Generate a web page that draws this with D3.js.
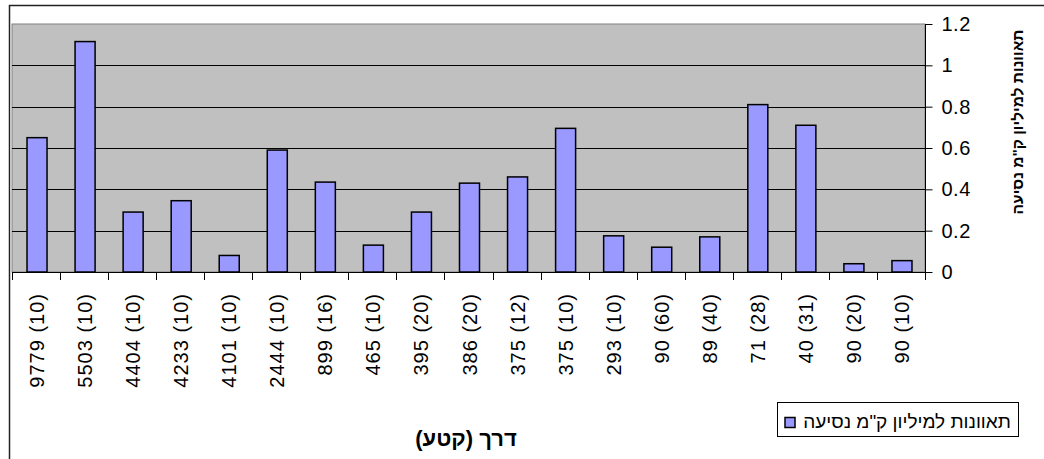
<!DOCTYPE html>
<html lang="he">
<head>
<meta charset="utf-8">
<script src="https://cdn.jsdelivr.net/npm/d3@7"></script>
<style>
  html, body { margin: 0; padding: 0; background: #fff; }
  svg { display: block; font-family: Arial, "Liberation Sans", sans-serif; }
</style>
</head>
<body>
<svg id="chart" width="1044" height="459"></svg>
<script>
// Road segments: length in km (number of segments)
const categories = [
  "9779 (10)", "5503 (10)", "4404 (10)", "4233 (10)", "4101 (10)",
  "2444 (10)", "899 (16)", "465 (10)", "395 (20)", "386 (20)",
  "375 (12)", "375 (10)", "293 (10)", "90 (60)", "89 (40)",
  "71 (28)", "40 (31)", "90 (20)", "90 (10)"
];
// Accidents per million travel-km
const accidentRates = [
  0.65, 1.115, 0.29, 0.345, 0.08,
  0.59, 0.435, 0.13, 0.29, 0.43,
  0.46, 0.695, 0.175, 0.12, 0.17,
  0.81, 0.71, 0.04, 0.055
];
const yTicks = [0, 0.2, 0.4, 0.6, 0.8, 1, 1.2];
const seriesName = "תאוונות למיליון ק\"מ נסיעה";
const xTitle = "דרך (קטע)";
const yTitle = "תאוונות למיליון ק\"מ נסיעה";

const svg = d3.select("#chart");
const plot = { left: 12, right: 925, top: 24, bottom: 272 };

// chart frame
svg.append("rect")
  .attr("x", 9.5).attr("y", 5.5)
  .attr("width", 1100).attr("height", 500)
  .attr("fill", "#fff").attr("stroke", "#222").attr("stroke-width", 1.5);

const x = d3.scaleBand().domain(categories).range([plot.left, plot.right]).padding(0);
const y = d3.scaleLinear().domain([0, 1.2]).range([plot.bottom, plot.top]);

// plot area
svg.append("rect")
  .attr("x", plot.left).attr("y", plot.top)
  .attr("width", plot.right - plot.left).attr("height", plot.bottom - plot.top)
  .attr("fill", "#c0c0c0").attr("stroke", "#808080").attr("stroke-width", 1);

// gridlines
svg.append("g").selectAll("line")
  .data(yTicks.filter(t => t > 0 && t < 1.2))
  .join("line")
  .attr("x1", plot.left).attr("x2", plot.right)
  .attr("y1", d => Math.round(y(d)) + 0.5).attr("y2", d => Math.round(y(d)) + 0.5)
  .attr("stroke", "#000").attr("stroke-width", 1);

// bars
const barW = x.bandwidth() / 2.4;
svg.append("g").selectAll("rect")
  .data(accidentRates)
  .join("rect")
  .attr("x", (d, i) => x(categories[i]) + (x.bandwidth() - barW) / 2 + 1)
  .attr("y", d => y(d))
  .attr("width", barW)
  .attr("height", d => y(0) - y(d))
  .attr("fill", "#9999ff")
  .attr("stroke", "#000").attr("stroke-width", 1.5);

// category axis: ticks between categories, rotated labels
const xAxis = svg.append("g");
xAxis.append("line")
  .attr("x1", plot.left).attr("x2", plot.right + 6)
  .attr("y1", plot.bottom + 0.5).attr("y2", plot.bottom + 0.5)
  .attr("stroke", "#000");
const bounds = categories.map(c => x(c)).concat([plot.right]);
xAxis.selectAll("line.tick")
  .data(bounds)
  .join("line").attr("class", "tick")
  .attr("x1", d => Math.round(d) + 0.5).attr("x2", d => Math.round(d) + 0.5)
  .attr("y1", plot.bottom).attr("y2", plot.bottom + 8)
  .attr("stroke", "#000");
xAxis.selectAll("text")
  .data(categories)
  .join("text")
  .attr("transform", d => `translate(${x(d) + x.bandwidth() / 2 + 1},293) rotate(-90)`)
  .attr("text-anchor", "end")
  .attr("dominant-baseline", "central")
  .attr("font-size", 20)
  .attr("letter-spacing", 1)
  .attr("fill", "#000")
  .text(d => d);

// value axis on the right
const yAxis = svg.append("g").attr("transform", `translate(${plot.right + 0.5},0)`)
  .call(d3.axisRight(y).tickValues(yTicks).tickSize(7).tickPadding(9)
    .tickFormat(d => d3.format("~g")(d)));
yAxis.select(".domain").attr("stroke", "#000").attr("d", `M0,${plot.top}V${plot.bottom + 0.5}`);
yAxis.selectAll(".tick line").attr("stroke", "#000");
yAxis.selectAll(".tick text")
  .attr("font-size", 20).attr("font-family", "Arial, 'Liberation Sans', sans-serif")
  .attr("fill", "#000").attr("letter-spacing", 0.5);

// axis titles
svg.append("text")
  .attr("x", 466).attr("y", 446)
  .attr("text-anchor", "middle").attr("direction", "rtl")
  .attr("font-size", 22).attr("font-weight", "bold")
  .text(xTitle);

svg.append("text")
  .attr("transform", "translate(1017,122) rotate(-90)")
  .attr("text-anchor", "middle").attr("direction", "rtl")
  .attr("dominant-baseline", "central")
  .attr("font-size", 15.5).attr("font-weight", "bold")
  .text(yTitle);

// legend
const legend = svg.append("g");
legend.append("rect")
  .attr("x", 777.5).attr("y", 402.5).attr("width", 241).attr("height", 34)
  .attr("fill", "#fff").attr("stroke", "#000").attr("stroke-width", 1);
legend.append("rect")
  .attr("x", 785).attr("y", 417.5).attr("width", 10).attr("height", 10)
  .attr("fill", "#9999ff").attr("stroke", "#000").attr("stroke-width", 1.5);
legend.append("text")
  .attr("x", 907).attr("y", 421)
  .attr("text-anchor", "middle").attr("direction", "rtl")
  .attr("dominant-baseline", "central")
  .attr("font-size", 19)
  .text(seriesName);
</script>
</body>
</html>
